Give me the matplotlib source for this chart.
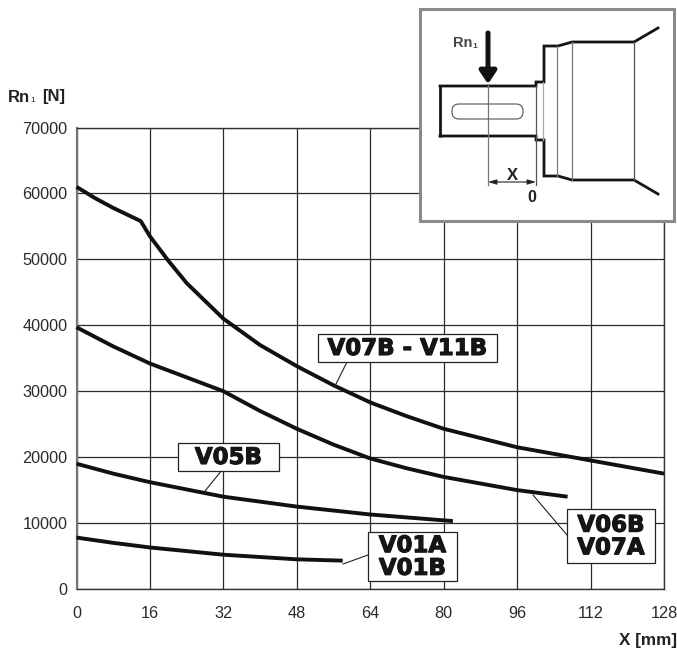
import matplotlib
matplotlib.use("Agg")
import matplotlib.pyplot as plt
import matplotlib.patheffects as pe
from matplotlib.patches import Rectangle, FancyBboxPatch

W, H = 677, 650
plt.rcParams['font.family'] = ['Liberation Sans', 'DejaVu Sans']

x_ticks = [0, 16, 32, 48, 64, 80, 96, 112, 128]
y_ticks = [0, 10000, 20000, 30000, 40000, 50000, 60000, 70000]

x_a = [0, 4, 8, 14, 16, 20, 24, 32, 40, 48, 56, 64, 72, 80, 96, 112, 128]
y_a = [61000, 59300, 57800, 55800, 53500, 49800, 46400, 41000, 37000, 33800, 30900, 28300, 26200, 24300, 21500, 19500, 17500]
x_b = [0, 8, 16, 24, 32, 40, 48, 56, 64, 72, 80, 96, 107]
y_b = [39700, 36800, 34200, 32100, 30000, 27000, 24300, 21900, 19800, 18300, 17000, 15000, 14000]
x_c = [0, 8, 16, 32, 48, 64, 82]
y_c = [19000, 17500, 16200, 14000, 12500, 11300, 10300]
x_d = [0, 8, 16, 32, 48, 58]
y_d = [7800, 7000, 6300, 5200, 4500, 4300]

fig = plt.figure(figsize=(W / 100, H / 100), dpi=100, facecolor='white')
ax = fig.add_axes([76.5 / W, 1 - 589 / H, 587.5 / W, 461.5 / H])
ax.set_xlim(0, 128)
ax.set_ylim(0, 70000)
ax.set_xticks(x_ticks)
ax.set_yticks(y_ticks)
ax.grid(True, color='#2a2a2a', lw=0.9)
ax.set_axisbelow(True)
ax.tick_params(length=0, labelsize=11.7, colors='#2a2a2a')
ax.tick_params(axis='y', pad=6.5)
ax.tick_params(axis='x', pad=12)
for s in ax.spines.values():
    s.set_color('#333333')
    s.set_linewidth(1.0)
ax.spines['left'].set_color('#777777')
ax.spines['left'].set_linewidth(1.6)

for xs, ys in [(x_a, y_a), (x_b, y_b), (x_c, y_c), (x_d, y_d)]:
    ax.plot(xs, ys, color='#111111', lw=2.8, solid_capstyle='butt', solid_joinstyle='round',
            clip_on=False, zorder=4)

# Overlay in pixel coordinates for labels and the shaft drawing
ov = fig.add_axes([0, 0, 1, 1], facecolor='none')
ov.set_xlim(0, W)
ov.set_ylim(H, 0)
ov.axis('off')

ov.text(8, 97, 'Rn', fontsize=12, fontweight='bold', color='#222222', va='center')
ov.text(30.5, 100, '1', fontsize=6, color='#222222', va='center')
ov.text(42, 97, '[N]', fontsize=12, fontweight='bold', color='#222222', va='center')
ov.text(677, 640, 'X [mm]', fontsize=12.3, fontweight='bold', color='#222222', va='center', ha='right')


def label(x0, y0, x1, y1, text):
    ov.add_patch(Rectangle((x0, y0), x1 - x0, y1 - y0, fc='white', ec='#222222', lw=0.9, zorder=6))
    t = ov.text((x0 + x1) / 2, (y0 + y1) / 2 + 0.5, text, ha='center', va='center', fontsize=16.5,
                fontweight='bold', family='DejaVu Sans', color='#151515', zorder=7, linespacing=0.98)
    t.set_path_effects([pe.withStroke(linewidth=0.8, foreground='#151515')])


leaders = [([335, 347], [386, 362]), ([205, 222], [491, 470]), ([343, 368], [564, 555]), ([533, 567], [495, 535])]
for lx, ly in leaders:
    ov.plot(lx, ly, color='#222222', lw=0.8, zorder=5)
label(318, 334, 497, 362, 'V07B - V11B')
label(178, 443, 279, 471, 'V05B')
label(368, 532, 457, 581, 'V01A\nV01B')
label(567, 509, 655, 563, 'V06B\nV07A')

# Inset
ov.add_patch(Rectangle((420, 9), 254, 212, fc='white', ec='#8a8a8a', lw=2.2, zorder=8))
top = ([440, 536, 536, 544, 544, 558, 572, 634, 658], [86, 86, 82, 82, 46, 46, 42, 42, 28])
bot = ([440, 536, 536, 544, 544, 558, 572, 634, 658], [136, 136, 140, 140, 176, 176, 180, 180, 194])
ov.plot(top[0], top[1], color='#151515', lw=2.0, zorder=9, solid_joinstyle='miter')
ov.plot(bot[0], bot[1], color='#151515', lw=2.0, zorder=9, solid_joinstyle='miter')
ov.plot([440, 440], [85, 137], color='#151515', lw=2.0, solid_capstyle='butt', zorder=9)
for xv, y0, y1, c in [(536, 86, 185, '#555555'), (543, 82, 140, '#aaaaaa'), (557, 46, 176, '#777777'),
                      (572, 42, 180, '#777777'), (634, 42, 180, '#555555'), (488, 84, 185, '#777777')]:
    ov.plot([xv, xv], [y0, y1], color=c, lw=0.9, zorder=9)
ov.add_patch(FancyBboxPatch((452, 104), 71, 15, boxstyle='round,pad=0,rounding_size=7',
                            fc='none', ec='#666666', lw=0.9, zorder=9))
ov.annotate('', xy=(488, 84), xytext=(488, 33),
            arrowprops=dict(arrowstyle='-|>,head_width=0.5,head_length=0.75', color='#111111', lw=3.6,
                            shrinkA=0, shrinkB=0), zorder=10)
ov.annotate('', xy=(488, 182), xytext=(536, 182),
            arrowprops=dict(arrowstyle='<|-|>,head_width=0.15,head_length=0.5', color='#222222', lw=0.8,
                            shrinkA=0, shrinkB=0), zorder=10)
ov.text(453, 43, 'Rn', fontsize=10.5, fontweight='bold', color='#444444', va='center', zorder=10)
ov.text(472, 46, '1', fontsize=6, fontweight='bold', color='#444444', va='center', zorder=10)
ov.text(512, 176, 'X', fontsize=12, fontweight='bold', color='#222222', ha='center', va='center', zorder=10)
ov.text(532, 198, '0', fontsize=11.5, fontweight='bold', color='#222222', ha='center', va='center', zorder=10)

fig.savefig('out.png', dpi=100)
